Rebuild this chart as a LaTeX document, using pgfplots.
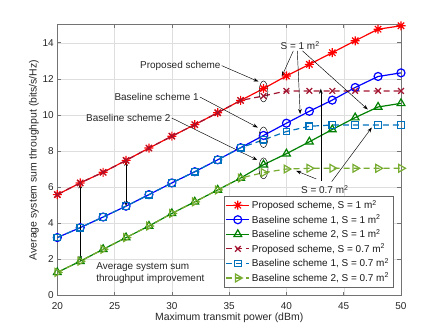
\documentclass[border=0pt]{standalone}
\usepackage{fontspec}
\setmainfont{Liberation Sans}
\usepackage{pgfplots}
\pgfplotsset{compat=1.18}
\usetikzlibrary{arrows.meta}

\definecolor{cgreen}{rgb}{0,0.5,0}
\definecolor{dred}{rgb}{0.635,0.078,0.184}
\definecolor{lblue}{rgb}{0,0.447,0.741}
\definecolor{lgreen}{rgb}{0.466,0.674,0.188}

% matlab style asterisk: plus and cross together
\pgfdeclareplotmark{mstar}{%
  \pgfpathmoveto{\pgfqpoint{-\pgfplotmarksize}{0pt}}\pgfpathlineto{\pgfqpoint{\pgfplotmarksize}{0pt}}%
  \pgfpathmoveto{\pgfqpoint{0pt}{-\pgfplotmarksize}}\pgfpathlineto{\pgfqpoint{0pt}{\pgfplotmarksize}}%
  \pgfpathmoveto{\pgfqpoint{-0.707\pgfplotmarksize}{-0.707\pgfplotmarksize}}\pgfpathlineto{\pgfqpoint{0.707\pgfplotmarksize}{0.707\pgfplotmarksize}}%
  \pgfpathmoveto{\pgfqpoint{-0.707\pgfplotmarksize}{0.707\pgfplotmarksize}}\pgfpathlineto{\pgfqpoint{0.707\pgfplotmarksize}{-0.707\pgfplotmarksize}}%
  \pgfusepathqstroke}

\begin{document}
\begin{tikzpicture}[>={Stealth[length=5bp,width=3.6bp]}]
\useasboundingbox (-57.3bp,-36.7bp) rectangle (385.7bp,295.3bp);
\begin{axis}[
  scale only axis,
  width=343.7bp, height=270.6bp,
  xmin=20, xmax=50, ymin=0, ymax=15,
  xtick={20,25,...,50},
  ytick={0,2,...,14},
  grid=major,
  major grid style={black!13, line width=0.4bp},
  axis line style={black!55, line width=0.5bp},
  tick style={black!55, line width=0.5bp},
  tick align=inside, major tick length=3.5bp,
  ticklabel style={font=\fontsize{10}{12}\selectfont, text=black!85},
  xticklabel style={yshift=-3.5bp},
  /pgf/number format/assume math mode=true,
  xlabel={Maximum transmit power (dBm)},
  ylabel={Average system sum throughput (bits/s/Hz)},
  xlabel shift=-3bp, ylabel shift=-3bp,
  label style={font=\fontsize{10.5}{12}\selectfont, text=black!85},
  legend style={at={(0.977,0.03)}, anchor=south east, draw=black!60, fill=white,
    font=\fontsize{10}{12}\selectfont, text=black!90, row sep=0.6bp, inner sep=2bp},
  legend cell align=left,
  legend image code/.code={\draw[mark repeat=2,mark phase=2] plot coordinates {(0bp,0bp) (11.5bp,0bp) (23bp,0bp)};},
  every axis plot/.append style={line width=1.2bp},
]
\addplot[red, mark=mstar, mark size=4.5bp] coordinates {
(20,5.58) (22,6.23) (24,6.82) (26,7.48) (28,8.16) (30,8.82) (32,9.46) (34,10.12)
(36,10.80) (38,11.46) (40,12.16) (42,12.80) (44,13.45) (46,14.11) (48,14.75) (50,14.94)};
\addlegendentry{Proposed scheme, S = 1 m\textsuperscript{2}}
\addplot[blue, mark=o, mark size=4bp] coordinates {
(20,3.20) (22,3.75) (24,4.34) (26,4.94) (28,5.58) (30,6.23) (32,6.85) (34,7.51)
(36,8.18) (38,8.86) (40,9.54) (42,10.20) (44,10.82) (46,11.52) (48,12.13) (50,12.33)};
\addlegendentry{Baseline scheme 1, S = 1 m\textsuperscript{2}}
\addplot[cgreen, mark=triangle, mark size=4.5bp] coordinates {
(20,1.27) (22,1.89) (24,2.55) (26,3.20) (28,3.84) (30,4.54) (32,5.18) (34,5.84)
(36,6.50) (38,7.24) (40,7.85) (42,8.51) (44,9.19) (46,9.85) (48,10.44) (50,10.64)};
\addlegendentry{Baseline scheme 2, S = 1 m\textsuperscript{2}}
\addplot[dred, dash pattern=on 6bp off 4bp, mark=x, mark size=4bp, mark options={solid}] coordinates {
(20,5.58) (22,6.23) (24,6.82) (26,7.48) (28,8.16) (30,8.82) (32,9.46) (34,10.12)
(36,10.80) (38,11.05) (40,11.33) (42,11.33) (44,11.33) (46,11.33) (48,11.33) (50,11.33)};
\addlegendentry{Proposed scheme, S = 0.7 m\textsuperscript{2}}
\addplot[lblue, dash pattern=on 6bp off 4bp, mark=square, mark size=3.3bp, mark options={solid}] coordinates {
(20,3.20) (22,3.75) (24,4.34) (26,4.94) (28,5.58) (30,6.23) (32,6.85) (34,7.51)
(36,8.18) (38,8.62) (40,9.08) (42,9.37) (44,9.44) (46,9.44) (48,9.44) (50,9.44)};
\addlegendentry{Baseline scheme 1, S = 0.7 m\textsuperscript{2}}
\addplot[lgreen, dash pattern=on 6bp off 4bp, mark=triangle, mark size=4.5bp, mark options={solid, rotate=-90}] coordinates {
(20,1.27) (22,1.89) (24,2.55) (26,3.20) (28,3.84) (30,4.54) (32,5.18) (34,5.84)
(36,6.50) (38,6.80) (40,7.00) (42,7.04) (44,7.04) (46,7.04) (48,7.04) (50,7.04)};
\addlegendentry{Baseline scheme 2, S = 0.7 m\textsuperscript{2}}

% annotations
\begin{scope}[black, line width=0.45bp]
\draw (axis cs:38,11.3) ellipse [x radius=4.3bp, y radius=10.5bp];
\draw (axis cs:38,8.76) ellipse [x radius=4.5bp, y radius=10.3bp];
\draw (axis cs:38,7.04) ellipse [x radius=4.5bp, y radius=10.5bp];
\node[font=\fontsize{10}{12}\selectfont, text=black!85, anchor=east, inner sep=1bp] at (axis cs:34.35,12.73) {Proposed scheme};
\draw[->] (axis cs:34.35,12.73) -- (axis cs:37.55,11.85);
\node[font=\fontsize{10}{12}\selectfont, text=black!85, anchor=east, inner sep=1bp] at (axis cs:32.45,10.99) {Baseline scheme 1};
\draw[->] (axis cs:32.45,10.99) -- (axis cs:37.5,9.3);
\node[font=\fontsize{10}{12}\selectfont, text=black!85, anchor=east, inner sep=1bp] at (axis cs:29.98,9.83) {Baseline scheme 2};
\draw[->] (axis cs:29.98,9.83) -- (axis cs:37.45,7.5);
\node[font=\fontsize{10}{12}\selectfont, text=black!85] at (axis cs:41.2,13.85) {S = 1 m\textsuperscript{2}};
\draw[->] (axis cs:40.6,13.55) -- (axis cs:39.6,12.14);
\draw[->] (axis cs:40.95,13.55) -- (axis cs:41.2,10.05);
\draw[->] (axis cs:41.4,13.55) -- (axis cs:47.1,10.3);
\node[font=\fontsize{10}{12}\selectfont, text=black!85] at (axis cs:43.35,5.86) {S = 0.7 m\textsuperscript{2}};
\draw[->] (axis cs:42.6,6.45) -- (axis cs:40.85,6.9);
\draw[->] (axis cs:43.0,6.35) -- (axis cs:43.0,11.45);
\draw[->] (axis cs:43.95,6.3) -- (axis cs:47.45,9.3);
\draw[<->] (axis cs:22,6.2) -- (axis cs:22,1.9);
\draw[<->] (axis cs:26,7.45) -- (axis cs:26,4.95);
\node[font=\fontsize{10}{12}\selectfont, text=black!85, align=left, anchor=west] at (axis cs:23.1,1.23) {Average system sum\\throughput improvement};
\end{scope}
\end{axis}
\end{tikzpicture}
\end{document}
